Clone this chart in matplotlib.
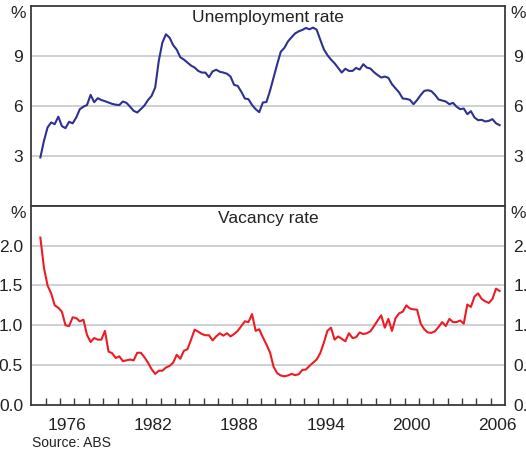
import numpy as np
import pandas as pd
import matplotlib
matplotlib.use('Agg')
import matplotlib.pyplot as plt

# Quarterly data, 1974Q3 - 2006Q3
quarters = pd.period_range('1974Q3', '2006Q3', freq='Q')

unemployment = [
    2.9, 3.9,
    4.7, 5.0, 4.9, 5.35,  4.78, 4.66, 5.04, 4.95,  5.3, 5.8, 5.95, 6.05,
    6.66, 6.22, 6.46, 6.35,  6.28, 6.2, 6.12, 6.07,  6.05, 6.26, 6.18, 5.95,
    5.7, 5.6, 5.8, 6.02,  6.35, 6.6, 7.1, 8.7,  9.8, 10.3, 10.1, 9.65,
    9.38, 8.92, 8.78, 8.6,  8.42, 8.3, 8.1, 8.0,  8.0, 7.72, 8.07, 8.17,
    8.05, 8.0, 7.93, 7.76,  7.26, 7.2, 6.85, 6.44,  6.4, 6.05, 5.8, 5.62,
    6.2, 6.23, 6.9, 7.7,  8.5, 9.25, 9.48, 9.87,  10.12, 10.35, 10.48, 10.56,
    10.68, 10.6, 10.7, 10.58,  9.98, 9.4, 9.05, 8.78,  8.56, 8.28, 8.0, 8.23,
    8.1, 8.1, 8.28, 8.18,  8.5, 8.3, 8.24, 8.02,  7.85, 7.7, 7.76, 7.68,
    7.3, 7.05, 6.8, 6.44,  6.42, 6.36, 6.1, 6.35,  6.65, 6.9, 6.94, 6.88,
    6.66, 6.38, 6.32, 6.26,  6.1, 6.18, 5.95, 5.8,  5.84, 5.5, 5.68, 5.3,
    5.14, 5.16, 5.06, 5.1,  5.2, 4.95, 4.84,
]

vacancy = [
    2.10, 1.72,
    1.50, 1.40, 1.25, 1.22,  1.17, 1.00, 0.99, 1.10,  1.09, 1.05, 1.07, 0.88,
    0.79, 0.84, 0.82, 0.82,  0.93, 0.67, 0.65, 0.59,  0.61, 0.55, 0.56, 0.57,
    0.56, 0.655, 0.655, 0.60,  0.53, 0.45, 0.39, 0.43,  0.43, 0.47, 0.49, 0.53,
    0.63, 0.58, 0.68, 0.70,  0.82, 0.945, 0.92, 0.89,  0.875, 0.875, 0.81, 0.86,
    0.90, 0.87, 0.90, 0.86,  0.89, 0.93, 0.99, 1.05,  1.04, 1.14, 0.93, 0.95,
    0.85, 0.76, 0.66, 0.48,  0.40, 0.37, 0.36, 0.37,  0.39, 0.375, 0.385, 0.44,
    0.445, 0.49, 0.53, 0.57,  0.65, 0.78, 0.93, 0.97,  0.82, 0.86, 0.83, 0.80,
    0.90, 0.84, 0.85, 0.91,  0.89, 0.90, 0.925, 0.99,  1.06, 1.125, 0.97, 1.08,
    0.93, 1.09, 1.15, 1.17,  1.25, 1.21, 1.20, 1.195,  1.02, 0.95, 0.91, 0.905,
    0.925, 0.98, 1.04, 0.99,  1.08, 1.04, 1.04, 1.06,  1.02, 1.26, 1.23, 1.36,
    1.40, 1.33, 1.30, 1.28,  1.33, 1.46, 1.43,
]

year_labels = [1976, 1982, 1988, 1994, 2000, 2006]
unemp_ticks = [3, 6, 9]
vac_ticks = [0.0, 0.5, 1.0, 1.5, 2.0]

# mid-quarter decimal years
dates = quarters.year + (quarters.quarter - 1) / 4 + 0.125

plt.rcParams['font.family'] = ['Liberation Sans', 'DejaVu Sans']
FS = 12.5
SPINE = '#3a3a3a'
GRID = '#c9cdd2'

fig = plt.figure(figsize=(5.26, 4.51), dpi=100)
left, right = 31.4 / 526, 505 / 526
ax1 = fig.add_axes([left, 1 - 205.7 / 451, right - left, 199.7 / 451])
ax2 = fig.add_axes([left, 1 - 405 / 451, right - left, 199.3 / 451])


def style(ax, ticks, ylim, fmt):
    ax.set_xlim(1974, 2007)
    ax.set_ylim(*ylim)
    ax.set_yticks(ticks)
    ax.set_yticklabels([fmt.format(t) for t in ticks])
    ax.tick_params(axis='y', length=0, labelsize=FS, pad=6,
                   labelleft=True, labelright=True, colors='#222222')
    for s in ax.spines.values():
        s.set_color(SPINE)
        s.set_linewidth(1.3)
    for t in ticks:
        if t > ylim[0]:
            ax.axhline(t, color=GRID, lw=1.3, zorder=0)
    for x, ha, off in [(0, 'right', -6), (1, 'left', 5)]:
        ax.annotate('%', xy=(x, 1), xycoords='axes fraction',
                    xytext=(off, -8), textcoords='offset pixels',
                    ha=ha, va='center', fontsize=FS, color='#222222')


style(ax1, unemp_ticks, (0, 12), '{:d}')
style(ax2, vac_ticks, (0, 2.5), '{:.1f}')

ax1.plot(dates, unemployment, color='#2e3192', lw=1.5)
ax2.plot(dates, vacancy, color='#ed1c24', lw=1.5)

ax1.set_xticks([])
ax2.set_xticks(np.arange(1975, 2007), minor=True)
ax2.set_xticks([y + 0.5 for y in year_labels])
ax2.set_xticklabels([str(y) for y in year_labels])
ax2.tick_params(axis='x', which='major', length=0, labelsize=FS, pad=9,
                colors='#222222')
ax2.tick_params(axis='x', which='minor', direction='in', length=5,
                width=1, color=SPINE)

ax1.annotate('Unemployment rate', xy=(0.5, 1), xycoords='axes fraction',
             xytext=(0, -4), textcoords='offset pixels', ha='center', va='top',
             fontsize=FS, color='#222222')
ax2.annotate('Vacancy rate', xy=(0.5, 1), xycoords='axes fraction',
             xytext=(0, -5), textcoords='offset pixels', ha='center', va='top',
             fontsize=FS, color='#222222')

fig.text(32 / 526, 1 - 443 / 451, 'Source: ABS', ha='left', va='center',
         fontsize=10, color='#222222')

fig.savefig('out.png', dpi=100)
